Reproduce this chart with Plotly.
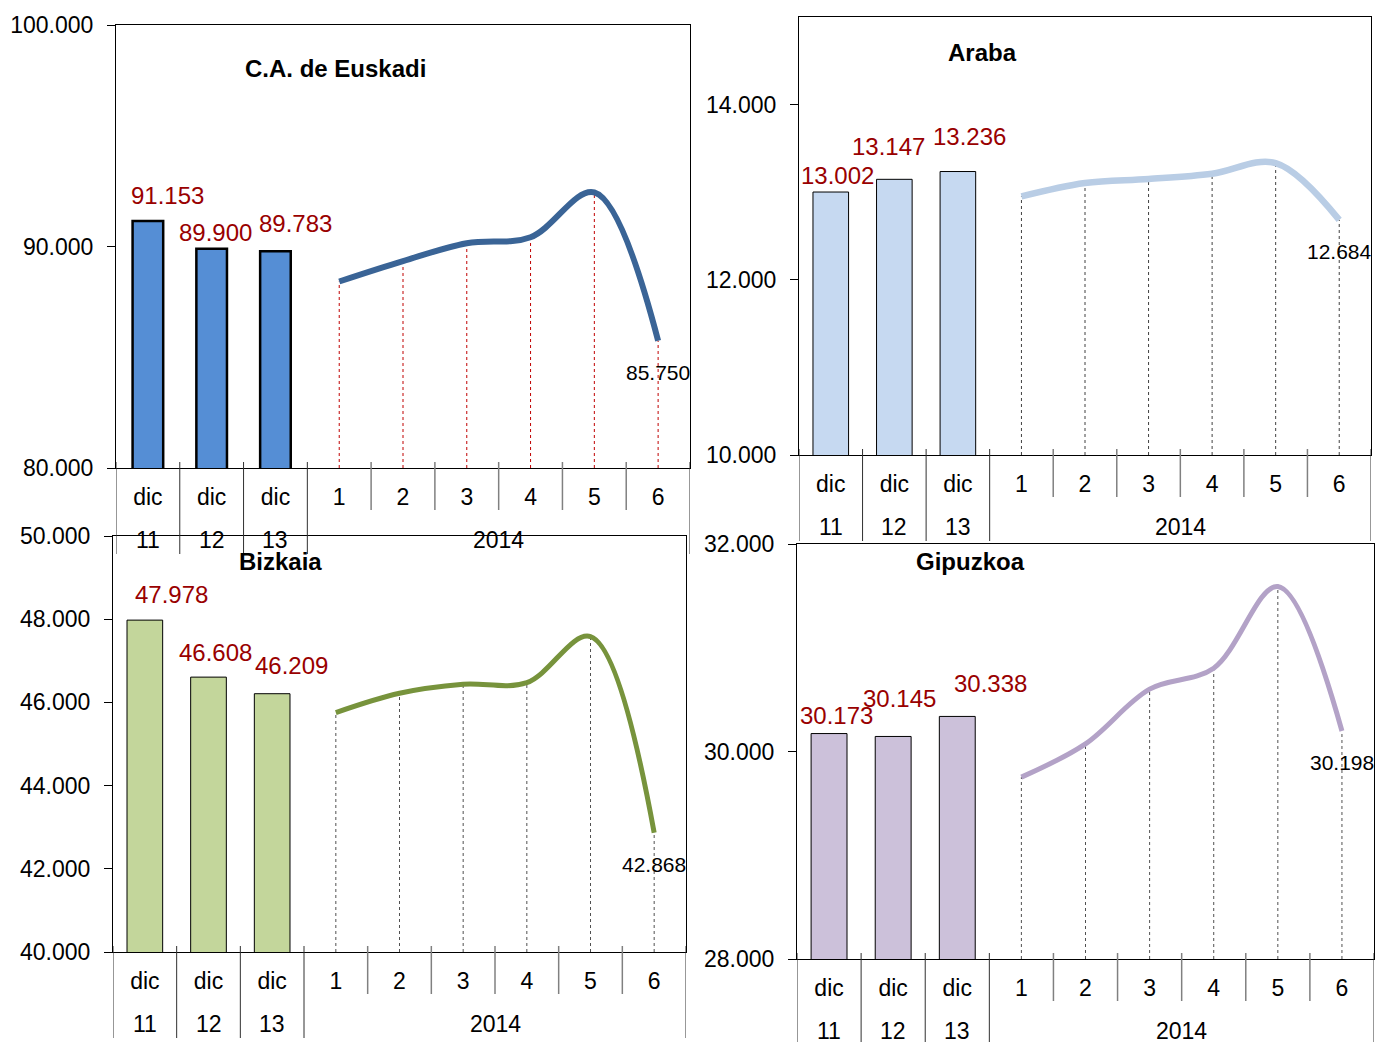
import plotly.graph_objects as go

# ---------------- data ----------------
dic_years = ["11", "12", "13"]
dic_label = "dic"
months = ["1", "2", "3", "4", "5", "6"]
year_2014 = "2014"

titles = ["C.A. de Euskadi", "Araba", "Bizkaia", "Gipuzkoa"]

euskadi_dic = [91153, 89900, 89783]
euskadi_2014 = [88420, 89340, 90150, 90420, 92440, 85750]

araba_dic = [13002, 13147, 13236]
araba_2014 = [12952, 13105, 13150, 13211, 13333, 12684]

bizkaia_dic = [47978, 46608, 46209]
bizkaia_2014 = [45755, 46219, 46435, 46476, 47582, 42868]

gipuzkoa_dic = [30173, 30145, 30338]
gipuzkoa_2014 = [29753, 30074, 30601, 30803, 31590, 30198]

y_ranges = [[80000, 100000], [10000, 15000], [40000, 50000], [28000, 32000]]
y_dticks = [10000, 2000, 2000, 2000]

# category positions on the x scale (one slot per category)
n_dic, n_m = len(dic_years), len(months)
x_dic = list(range(n_dic))
x_m = list(range(n_dic, n_dic + n_m))
inner_labels = [dic_label] * n_dic + months

# ---------------- styles ----------------
W, H = 1376, 1042
FONT = "Liberation Sans, Arial, sans-serif"
RED = "#990000"

panels = [
    dict(dic=euskadi_dic, m=euskadi_2014, box=(116, 690, 25, 468),
         bar="#558ED5", bar_line=2.5, bar_w=0.48, line="#3A6496", lw=6, drop="#C00000",
         title_xy=(335, 68),
         offs=[(20, 25), (4, 16), (20, 28)]),
    dict(dic=araba_dic, m=araba_2014, box=(799, 1371, 17, 455),
         bar="#C6D9F1", bar_line=1, bar_w=0.56, line="#B9CDE5", lw=6.5, drop="#404040",
         title_xy=(982, 52),
         offs=[(7, 17), (-6, 33), (12, 35)]),
    dict(dic=bizkaia_dic, m=bizkaia_2014, box=(113, 686, 536, 952),
         bar="#C3D69B", bar_line=1, bar_w=0.56, line="#77933C", lw=5, drop="#505050",
         title_xy=(280, 561),
         offs=[(27, 26), (7, 25), (19, 28)]),
    dict(dic=gipuzkoa_dic, m=gipuzkoa_2014, box=(797, 1374, 544, 959),
         bar="#CCC1DA", bar_line=1, bar_w=0.56, line="#B3A2C7", lw=5, drop="#505050",
         title_xy=(970, 561),
         offs=[(7, 18), (6, 38), (33, 33)]),
]

fig = go.Figure()
annotations = []
shapes = []
layout = {}

for k, p in enumerate(panels):
    sfx = "" if k == 0 else str(k + 1)
    xa, ya = "x" + sfx, "y" + sfx
    ymin = y_ranges[k][0]
    x0, x1, y0, y1 = p["box"]
    ph = y1 - y0

    # bars (dic 11/12/13)
    fig.add_trace(go.Bar(
        x=x_dic, y=p["dic"], width=p["bar_w"],
        marker=dict(color=p["bar"], line=dict(color="#000000", width=p["bar_line"])),
        xaxis=xa, yaxis=ya, showlegend=False, hoverinfo="y"))

    # drop lines for months
    for xm, v in zip(x_m, p["m"]):
        fig.add_trace(go.Scatter(
            x=[xm, xm], y=[ymin, v],
            mode="lines", line=dict(color=p["drop"], width=1, dash="dot"),
            xaxis=xa, yaxis=ya, showlegend=False, hoverinfo="skip"))

    # smooth line for 2014 months
    fig.add_trace(go.Scatter(
        x=x_m, y=p["m"],
        mode="lines", line=dict(color=p["line"], width=p["lw"], shape="spline", smoothing=1.0),
        xaxis=xa, yaxis=ya, showlegend=False))

    layout["xaxis" + sfx] = dict(
        domain=[x0 / W, x1 / W], anchor=ya, automargin=False,
        range=[-0.5, n_dic + n_m - 0.5],
        tickvals=x_dic + x_m, ticktext=inner_labels,
        showline=True, linecolor="#000000", linewidth=1, mirror=True,
        ticks="", ticklabelstandoff=8,
        tickfont=dict(family=FONT, size=23, color="#000000"),
        showgrid=False, zeroline=False, fixedrange=True)
    layout["yaxis" + sfx] = dict(
        domain=[1 - y1 / H, 1 - y0 / H], anchor=xa, automargin=False,
        range=y_ranges[k], dtick=y_dticks[k], tick0=ymin, tickformat=",.0f",
        showline=True, linecolor="#000000", linewidth=1, mirror=True,
        ticks="outside", ticklen=8, tickcolor="#000000", ticklabelstandoff=9,
        tickfont=dict(family=FONT, size=23, color="#000000"),
        showgrid=False, zeroline=False, fixedrange=True)

    # group dividers (long) and month separators (short) below the axis
    group_edges = [x - 0.5 for x in x_dic] + [x_m[0] - 0.5, x_m[-1] + 0.5]
    for e in group_edges:
        shapes.append(dict(
            type="line", xref=xa, yref=ya + " domain",
            x0=e, x1=e, y0=6 / ph, y1=-86 / ph,
            line=dict(color="#303030", width=1)))
    for xm in x_m[1:]:
        shapes.append(dict(
            type="line", xref=xa, yref=ya + " domain",
            x0=xm - 0.5, x1=xm - 0.5, y0=6 / ph, y1=-42 / ph,
            line=dict(color="#808080", width=1.5)))

    # second label row: years
    for xd, yr in zip(x_dic, dic_years):
        annotations.append(dict(
            x=xd, y=0, xref=xa, yref=ya + " domain", text=yr, showarrow=False,
            xanchor="center", yanchor="middle", yshift=-72,
            font=dict(family=FONT, size=23, color="#000000")))
    annotations.append(dict(
        x=sum(x_m) / n_m, y=0, xref=xa, yref=ya + " domain", text=year_2014,
        showarrow=False, xanchor="center", yanchor="middle", yshift=-72,
        font=dict(family=FONT, size=23, color="#000000")))

    # bar value labels
    for xd, v, (dx, dy) in zip(x_dic, p["dic"], p["offs"]):
        annotations.append(dict(
            x=xd, y=v, xref=xa, yref=ya, text=f"{v:,}".replace(",", "."),
            showarrow=False, xanchor="center", yanchor="middle",
            xshift=dx, yshift=dy,
            font=dict(family=FONT, size=24, color=RED)))
    # last month label
    last = p["m"][-1]
    annotations.append(dict(
        x=x_m[-1], y=last, xref=xa, yref=ya,
        text=f"{last:,}".replace(",", "."), showarrow=False,
        xanchor="center", yanchor="middle", yshift=-32,
        font=dict(family=FONT, size=21, color="#000000")))
    # title
    tx, ty = p["title_xy"]
    annotations.append(dict(
        x=tx / W, y=1 - ty / H, xref="paper", yref="paper",
        text=f"<b>{titles[k]}</b>", showarrow=False,
        xanchor="center", yanchor="middle",
        font=dict(family=FONT, size=24, color="#000000")))

fig.update_layout(
    width=W, height=H, margin=dict(l=0, r=0, t=0, b=0, autoexpand=False),
    paper_bgcolor="#FFFFFF", plot_bgcolor="#FFFFFF",
    separators=",.", showlegend=False,
    annotations=annotations, shapes=shapes, **layout)

fig.write_html("out.html", config={"displayModeBar": False},
               post_script="document.body.style.margin='0';")
